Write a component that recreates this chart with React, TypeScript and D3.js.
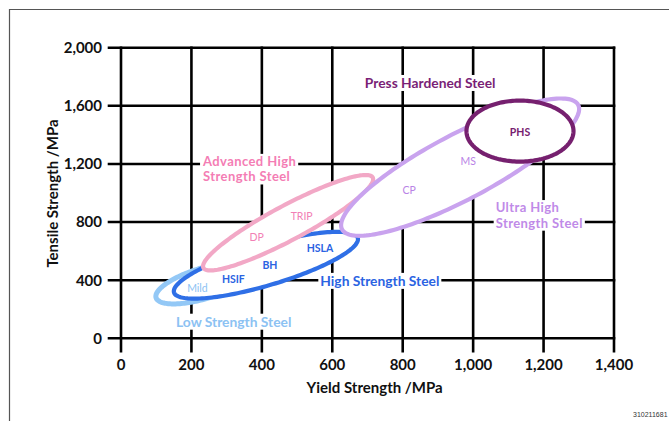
import React, { useEffect, useRef } from "react";
import * as d3 from "d3";

// ---- data ----
const xTicks = [0, 200, 400, 600, 800, 1000, 1200, 1400];
const yTicks = [0, 400, 800, 1200, 1600, 2000];

// steel families: ellipse given by its lowest-yield and highest-yield ends and tensile spread at the middle
const families = ["Low Strength Steel", "High Strength Steel", "Advanced High Strength Steel", "Ultra High Strength Steel", "Press Hardened Steel"];
const familyYieldLow = [99, 150, 233, 625, 981];
const familyTensileAtLow = [289, 324, 496, 778, 1426];
const familyYieldHigh = [372, 673, 716, 1301, 1285];
const familyTensileAtHigh = [468, 682, 1095, 1578, 1426];
const familyTensileSpread = [220, 289, 269, 503, 420];

// family caption lines and anchor (yield, tensile)
const familyCaptionLines = [["Low Strength Steel"], ["High Strength Steel"], ["Advanced High", "Strength Steel"], ["Ultra High", "Strength Steel"], ["Press Hardened Steel"]];
const familyCaptionYield = [320, 735, 233, 1064, 878];
const familyCaptionTensile = [114, 395, 1219, 901, 1757];

// grades inside the families
const grades = ["Mild", "HSIF", "BH", "HSLA", "DP", "TRIP", "CP", "MS", "PHS"];
const gradeFamily = [0, 1, 1, 1, 2, 2, 3, 3, 4];
const gradeYield = [217, 319, 423, 565, 385, 513, 818, 986, 1133];
const gradeTensile = [345, 407, 503, 618, 694, 843, 1022, 1216, 1421];

const strokeColors = ["#93c8f6", "#2f6fe6", "#f2a8c6", "#c9a3ee", "#76206f"];
const textColors = ["#8cc2f3", "#2b63e2", "#f47db4", "#c08ae8", "#7a1f76"];
const gradeColors = ["#8cc2f3", "#2b63e2", "#f27fb5", "#b983e6", "#76206f"];
const gradeBold = [false, true, true, true, false, false, false, false, true];
const FONT = "Lato, 'Open Sans', sans-serif";

export default function App() {
  const ref = useRef<SVGSVGElement>(null);
  useEffect(() => {
    const svg = d3.select(ref.current);
    svg.selectAll("*").remove();
    const x = d3.scaleLinear().domain([0, 1400]).range([121, 614]);
    const y = d3.scaleLinear().domain([0, 2000]).range([338.3, 47.7]);

    svg.append("rect").attr("width", 669).attr("height", 421).attr("fill", "#fff");
    svg.append("path").attr("d", "M9.5,421 V9.5 H669").attr("fill", "none").attr("stroke", "#555").attr("stroke-width", 1.2);

    const grid = svg.append("g").attr("stroke", "#000").attr("stroke-width", 2.6).attr("stroke-linecap", "square");
    xTicks.forEach((t) => {
      grid.append("line").attr("x1", x(t)).attr("x2", x(t)).attr("y1", y(2000)).attr("y2", y(0) + 13);
    });
    yTicks.forEach((t) => {
      grid.append("line").attr("x1", x(0) - 12).attr("x2", x(1400)).attr("y1", y(t)).attr("y2", y(t));
    });

    svg.append("g").selectAll("text").data(yTicks).join("text")
      .attr("x", 102).attr("y", (d) => y(d)).attr("dy", "0.36em").attr("text-anchor", "end")
      .attr("font-family", FONT).attr("font-weight", 700).attr("font-size", 15).attr("fill", "#111")
      .text((d) => d3.format(",")(d));
    svg.append("g").selectAll("text").data(xTicks).join("text")
      .attr("x", (d) => x(d)).attr("y", 365).attr("dy", "0.36em").attr("text-anchor", "middle")
      .attr("font-family", FONT).attr("font-weight", 700).attr("font-size", 15).attr("fill", "#111")
      .text((d) => d3.format(",")(d));

    svg.append("text").attr("x", 374.6).attr("y", 387.3).attr("dy", "0.36em").attr("text-anchor", "middle")
      .attr("font-family", FONT).attr("font-weight", 700).attr("font-size", 15).attr("fill", "#111")
      .text("Yield Strength /MPa");
    svg.append("text").attr("transform", "translate(52.5,193.5) rotate(-90)").attr("dy", "0.36em").attr("text-anchor", "middle")
      .attr("font-family", FONT).attr("font-weight", 700).attr("font-size", 15).attr("fill", "#111")
      .text("Tensile Strength /MPa");

    // ellipses
    const line = d3.line<[number, number]>().curve(d3.curveLinearClosed);
    families.forEach((f, i) => {
      const cx = (familyYieldLow[i] + familyYieldHigh[i]) / 2;
      const cy = (familyTensileAtLow[i] + familyTensileAtHigh[i]) / 2;
      const ax = (familyYieldHigh[i] - familyYieldLow[i]) / 2;
      const ay = (familyTensileAtHigh[i] - familyTensileAtLow[i]) / 2;
      const by = familyTensileSpread[i] / 2;
      const pts: [number, number][] = d3.range(0, 2 * Math.PI, Math.PI / 90).map((t) => [
        x(cx + ax * Math.cos(t)),
        y(cy + ay * Math.cos(t) + by * Math.sin(t)),
      ]);
      svg.append("path").attr("d", line(pts)).attr("fill", "#fff")
        .attr("stroke", strokeColors[i]).attr("stroke-width", i === 0 ? 5 : 4.2);
    });

    // grade labels
    grades.forEach((g, i) => {
      svg.append("text").attr("x", x(gradeYield[i])).attr("y", y(gradeTensile[i])).attr("dy", "0.36em")
        .attr("text-anchor", "middle").attr("font-family", FONT).attr("font-size", 10.5)
        .attr("font-weight", gradeBold[i] ? 700 : 400).attr("fill", gradeColors[gradeFamily[i]]).text(g);
    });

    // family captions with white boxes
    families.forEach((f, i) => {
      const g = svg.append("g");
      const lines = familyCaptionLines[i];
      const multi = lines.length > 1;
      const lh = 15.6;
      const fs = multi ? 13 : 13.8;
      const texts: SVGTextElement[] = [];
      lines.forEach((l, k) => {
        const t = g.append("text").attr("font-family", FONT).attr("font-weight", 700).attr("font-size", fs)
          .attr("letter-spacing", multi ? 0.4 : 0)
          .attr("fill", textColors[i]).attr("text-anchor", multi ? "start" : "middle")
          .attr("x", x(familyCaptionYield[i])).attr("y", y(familyCaptionTensile[i]) + k * lh).attr("dy", "0.36em").text(l);
        texts.push(t.node() as SVGTextElement);
      });
      const boxes = texts.map((n) => n.getBBox());
      const x0 = d3.min(boxes, (b) => b.x)!;
      const y0 = d3.min(boxes, (b) => b.y)!;
      const x1 = d3.max(boxes, (b) => b.x + b.width)!;
      const y1 = d3.max(boxes, (b) => b.y + b.height)!;
      g.insert("rect", "text").attr("x", x0 - 2).attr("y", y0 + 1).attr("width", x1 - x0 + 4).attr("height", y1 - y0 - 1).attr("fill", "#fff");
    });

    svg.append("text").attr("x", 633).attr("y", 417).attr("font-family", "'Liberation Sans', Arial, sans-serif")
      .attr("font-size", 7).attr("fill", "#333").text("310211681");
  }, []);
  return (
    <svg ref={ref} width={669} height={421} style={{ position: "absolute", left: 0, top: 0 }} />
  );
}
